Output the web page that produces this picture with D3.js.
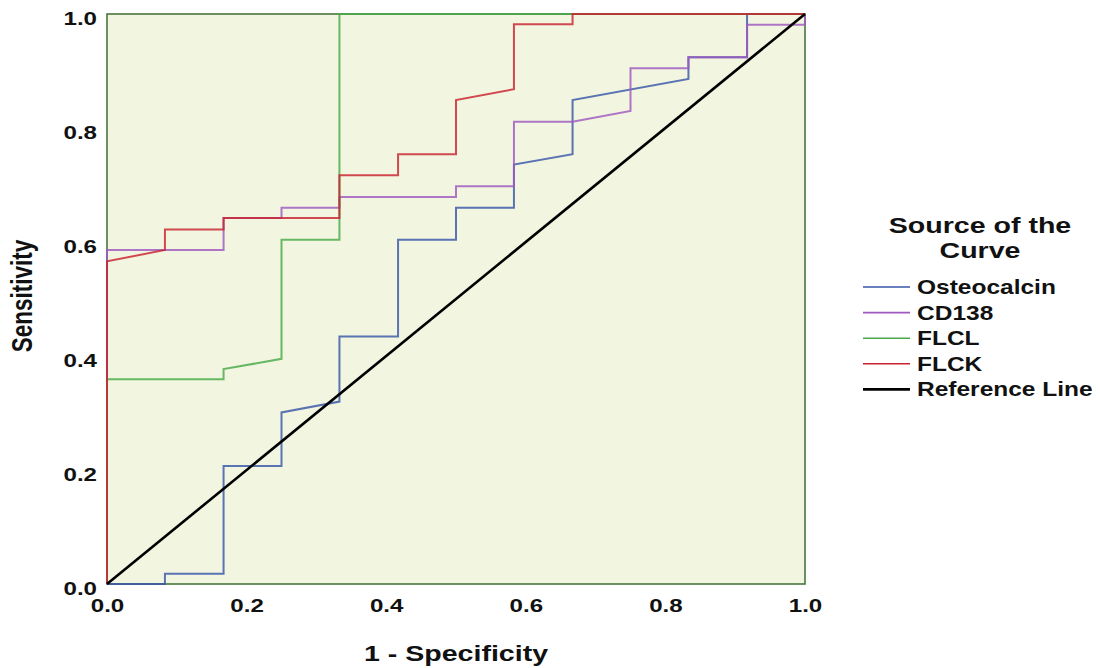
<!DOCTYPE html>
<html>
<head>
<meta charset="utf-8">
<script src="https://cdn.jsdelivr.net/npm/d3@7"></script>
<style>
  html, body { margin: 0; padding: 0; background: #ffffff; }
  svg { display: block; }
  text { font-family: "Liberation Sans", Arial, sans-serif; font-weight: bold; fill: #111; }
</style>
</head>
<body>
<svg id="chart" width="1100" height="668"></svg>
<script>
// ---------------- data ----------------
const axisTicks = [0.0, 0.2, 0.4, 0.6, 0.8, 1.0];
const xTitle = "1 - Specificity";
const yTitle = "Sensitivity";
const legendTitle = ["Source of the", "Curve"];
const seriesNames = ["Osteocalcin", "CD138", "FLCL", "FLCK", "Reference Line"];

const osteocalcinFPR = [0, 0.083, 0.083, 0.167, 0.167, 0.25, 0.25, 0.333, 0.333, 0.417, 0.417, 0.5, 0.5, 0.583, 0.583, 0.667, 0.667, 0.833, 0.833, 0.917, 0.917, 1.0];
const osteocalcinTPR = [0, 0, 0.018, 0.018, 0.207, 0.207, 0.301, 0.320, 0.434, 0.434, 0.604, 0.604, 0.660, 0.660, 0.736, 0.754, 0.849, 0.886, 0.924, 0.924, 1.0, 1.0];

const cd138FPR = [0, 0, 0.167, 0.167, 0.25, 0.25, 0.333, 0.333, 0.5, 0.5, 0.583, 0.583, 0.667, 0.75, 0.75, 0.833, 0.833, 0.917, 0.917, 1.0, 1.0];
const cd138TPR = [0, 0.586, 0.586, 0.642, 0.642, 0.660, 0.660, 0.679, 0.679, 0.698, 0.698, 0.811, 0.811, 0.830, 0.905, 0.905, 0.924, 0.924, 0.981, 0.981, 1.0];

const flclFPR = [0, 0, 0.167, 0.167, 0.25, 0.25, 0.333, 0.333, 1.0];
const flclTPR = [0, 0.359, 0.359, 0.377, 0.395, 0.604, 0.604, 1.0, 1.0];

const flckFPR = [0, 0, 0.083, 0.083, 0.167, 0.167, 0.333, 0.333, 0.417, 0.417, 0.5, 0.5, 0.583, 0.583, 0.667, 0.667, 1.0];
const flckTPR = [0, 0.566, 0.586, 0.622, 0.622, 0.642, 0.642, 0.717, 0.717, 0.754, 0.754, 0.849, 0.868, 0.982, 0.982, 1.0, 1.0];

const referenceFPR = [0, 1];
const referenceTPR = [0, 1];

const seriesColors = ["#3856a8", "#9f58bf", "#48a848", "#c9222e", "#000000"];

// ---------------- layout ----------------
const svg = d3.select("#chart");
const plotLeft = 107, plotRight = 805, plotTop = 14, plotBottom = 584;
const SX = 1.27; // horizontal stretch of the original's text

const x = d3.scaleLinear().domain([0, 1]).range([plotLeft, plotRight]);
const y = d3.scaleLinear().domain([0, 1]).range([plotBottom, plotTop]);

// plot background
svg.append("rect")
  .attr("x", x(0)).attr("y", y(1))
  .attr("width", x(1) - x(0)).attr("height", y(0) - y(1))
  .attr("fill", "#f2f6e1")
  .attr("stroke", "#46773d")
  .attr("stroke-width", 1.6);

// axes (labels only)
const fmt = d3.format(".1f");
const xAxis = svg.append("g")
  .attr("transform", `translate(0,${plotBottom})`)
  .call(d3.axisBottom(x).tickValues(axisTicks).tickFormat(fmt).tickSize(0).tickPadding(0));
xAxis.select(".domain").remove();
xAxis.selectAll("text")
  .attr("y", 0).attr("dy", 28)
  .attr("font-size", 19)
  .attr("font-family", "Liberation Sans, Arial, sans-serif")
  .attr("font-weight", "bold")
  .attr("fill", "#111")
  .attr("transform", `scale(${SX},1)`);

const yAxis = svg.append("g")
  .attr("transform", `translate(97,0)`)
  .call(d3.axisLeft(y).tickValues(axisTicks).tickFormat(fmt).tickSize(0).tickPadding(0));
yAxis.select(".domain").remove();
yAxis.selectAll("text")
  .attr("x", 0).attr("dy", 10.5)
  .attr("font-size", 19)
  .attr("font-family", "Liberation Sans, Arial, sans-serif")
  .attr("font-weight", "bold")
  .attr("fill", "#111")
  .attr("text-anchor", "end")
  .attr("transform", `scale(${SX},1)`);

// curves
const line = d3.line().x(d => x(d[0])).y(d => y(d[1]));
const curves = [
  [osteocalcinFPR, osteocalcinTPR],
  [cd138FPR, cd138TPR],
  [flclFPR, flclTPR],
  [flckFPR, flckTPR],
  [referenceFPR, referenceTPR]
];
curves.forEach((c, i) => {
  const pts = c[0].map((v, k) => [v, c[1][k]]);
  svg.append("path")
    .datum(pts)
    .attr("d", line)
    .attr("fill", "none")
    .attr("stroke", seriesColors[i])
    .attr("stroke-opacity", i === 4 ? 1 : 0.82)
    .attr("stroke-width", i === 4 ? 2.6 : 2)
    .attr("stroke-linejoin", "miter");
});

// axis titles
svg.append("g")
  .attr("transform", `translate(${(plotLeft + plotRight) / 2},661) scale(${SX},1)`)
  .append("text")
  .attr("text-anchor", "middle")
  .attr("font-size", 22.5)
  .text(xTitle);

svg.append("g")
  .attr("transform", `translate(32,296) scale(${SX},1) rotate(-90)`)
  .append("text")
  .attr("text-anchor", "middle")
  .attr("font-size", 22.5)
  .text(yTitle);

// legend
legendTitle.forEach((t, i) => {
  svg.append("g")
    .attr("transform", `translate(980,${233 + i * 25}) scale(${SX},1)`)
    .append("text")
    .attr("text-anchor", "middle")
    .attr("font-size", 22.5)
    .text(t);
});

seriesNames.forEach((name, i) => {
  const base = 294 + i * 25.6;
  svg.append("line")
    .attr("x1", 863).attr("x2", 910)
    .attr("y1", base - 7).attr("y2", base - 7)
    .attr("stroke", seriesColors[i])
    .attr("stroke-width", i === 4 ? 2.6 : 1.6);
  svg.append("g")
    .attr("transform", `translate(917,${base}) scale(${SX},1)`)
    .append("text")
    .attr("font-size", 19.3)
    .text(name);
});
</script>
</body>
</html>
